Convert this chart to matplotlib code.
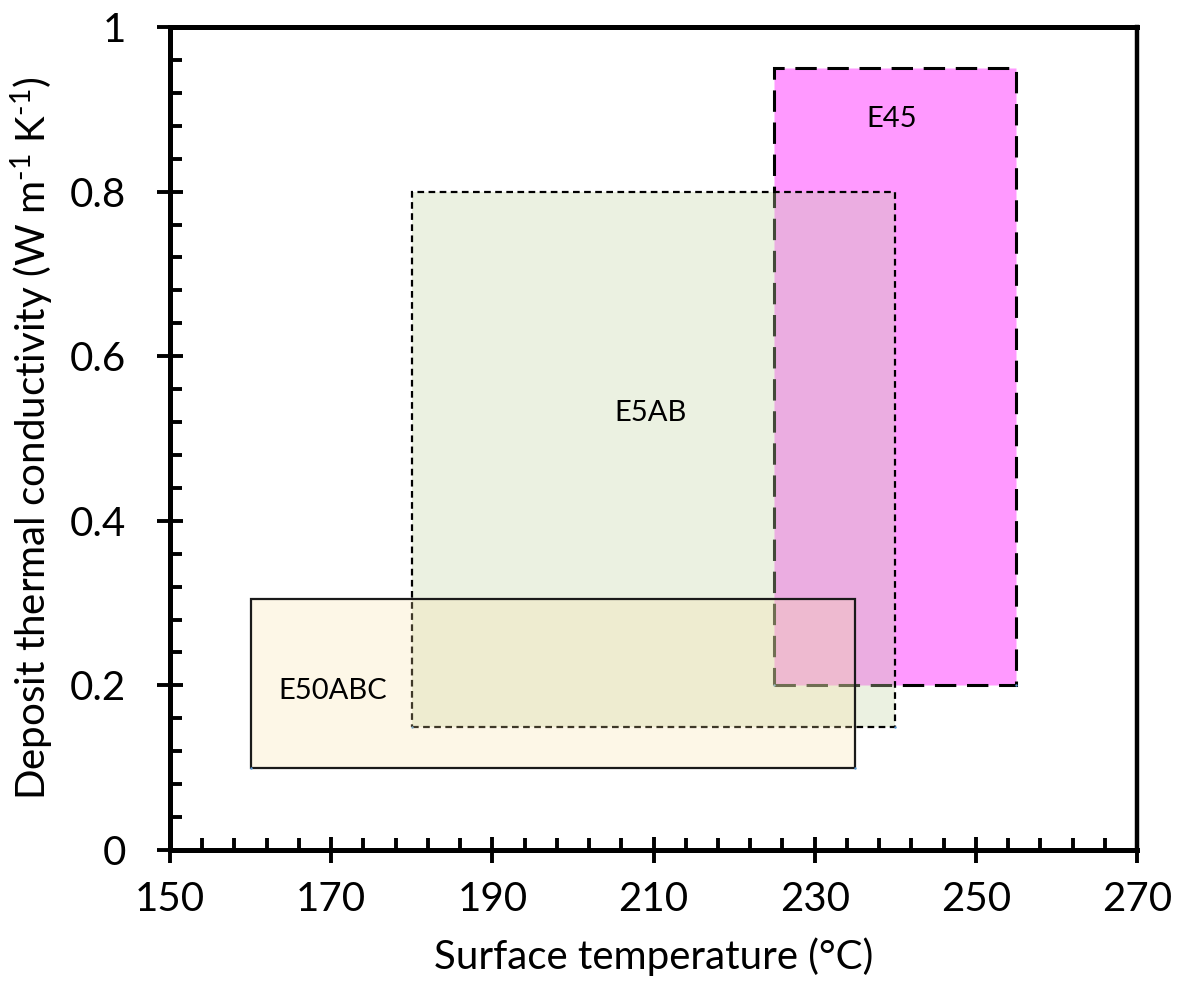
import numpy as np
import matplotlib
matplotlib.use('Agg')
import matplotlib.pyplot as plt
from matplotlib.patches import Rectangle
from matplotlib.ticker import FixedLocator

plt.rcParams['font.family'] = ['Lato', 'DejaVu Sans']
plt.rcParams['mathtext.fontset'] = 'custom'
plt.rcParams['mathtext.rm'] = 'Lato'
plt.rcParams['mathtext.it'] = 'Lato'

# operating windows for each deposit: temperature range and conductivity range
deposits = ['E45', 'E5AB', 'E50ABC']
t_low = [225, 180, 160]
t_high = [255, 240, 235]
k_low = [0.20, 0.15, 0.10]
k_high = [0.95, 0.80, 0.305]
label_x = [239.5, 209.6, 170.2]
label_y = [0.888, 0.531, 0.193]

x_major = [150, 170, 190, 210, 230, 250, 270]
y_major = [0, 0.2, 0.4, 0.6, 0.8, 1.0]
y_labels = ['0', '0.2', '0.4', '0.6', '0.8', '1']

fills = [((1.0, 0.6, 1.0), 1.0),
         ((197/255, 214/255, 168/255), 0.34),
         ((250/255, 225/255, 160/255), 0.25)]
edge_styles = [dict(linestyle=(0, (7, 3.5)), linewidth=2.2, edgecolor='black'),
               dict(linestyle=(0, (3, 2)), linewidth=1.6, edgecolor='black'),
               dict(linestyle='-', linewidth=1.6, edgecolor='#1a1a1a')]

fig = plt.figure(figsize=(11.84, 10.07), dpi=100)
ax = fig.add_axes([0.1436, 0.1559, 0.8167, 0.8173])

for i, name in enumerate(deposits):
    col, a = fills[i]
    ax.add_patch(Rectangle((t_low[i], k_low[i]), t_high[i] - t_low[i],
                           k_high[i] - k_low[i],
                           facecolor=(*col, a), zorder=2 + i, **edge_styles[i]))
    # corner points of the series
    ax.scatter([t_low[i], t_high[i]], [k_low[i], k_low[i]], s=3,
               color='#5b9bd5', zorder=2 + i, linewidths=0)
    ax.text(label_x[i], label_y[i], name, fontsize=21, ha='center',
            va='center', zorder=10)

ax.set_xlim(150, 270)
ax.set_ylim(0, 1)
ax.xaxis.set_major_locator(FixedLocator(x_major))
ax.xaxis.set_minor_locator(FixedLocator(np.arange(150, 271, 4)))
ax.set_yticks(y_major)
ax.set_yticklabels(y_labels)
ax.yaxis.set_minor_locator(FixedLocator(np.linspace(0, 1, 26)))

ax.tick_params(which='major', direction='inout', length=19, width=2.8,
               labelsize=29)
ax.tick_params(which='minor', direction='in', length=8.5, width=2.8)
ax.tick_params(axis='x', which='major', pad=13)
ax.tick_params(axis='y', which='major', pad=22)

ax.spines['left'].set_linewidth(3.6)
ax.spines['bottom'].set_linewidth(3.6)
ax.spines['top'].set_linewidth(3.6)
ax.spines['right'].set_linewidth(3.2)

ax.set_xlabel('Surface temperature (°C)', fontsize=29, labelpad=14)
ax.set_ylabel('Deposit thermal conductivity (W m$^{\\mathrm{\u20101}}$ K$^{\\mathrm{\u20101}}$)',
              fontsize=29, labelpad=10)

fig.savefig('out.png', dpi=100)
